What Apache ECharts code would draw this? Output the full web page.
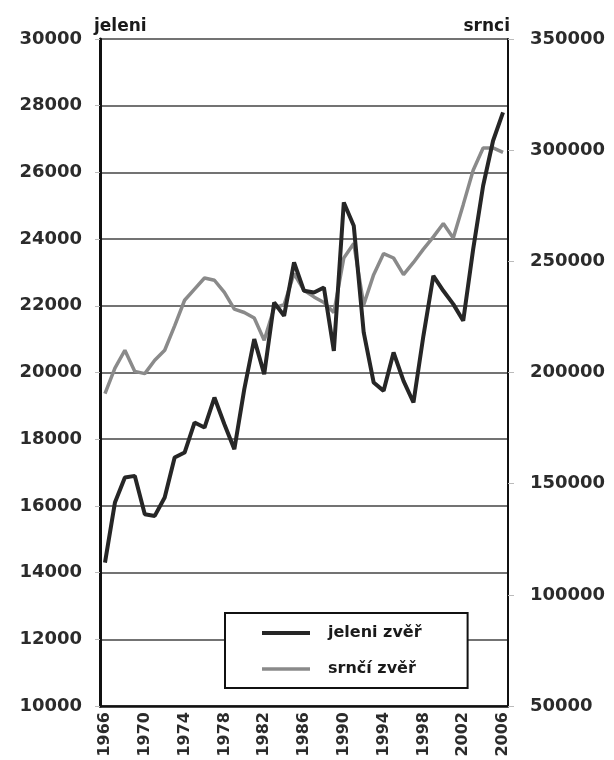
<!DOCTYPE html>
<html>
<head>
<meta charset="utf-8">
<script src="https://cdn.jsdelivr.net/npm/echarts@6/dist/echarts.min.js"></script>
<style>
html,body{margin:0;padding:0;background:#fff;}
#chart{width:614px;height:760px;}
</style>
</head>
<body>
<div id="chart"></div>
<script>
const years = ['1966','1967','1968','1969','1970','1971','1972','1973','1974','1975','1976','1977','1978','1979','1980','1981','1982','1983','1984','1985','1986','1987','1988','1989','1990','1991','1992','1993','1994','1995','1996','1997','1998','1999','2000','2001','2002','2003','2004','2005','2006'];
const jeleniZver = [14300,16100,16850,16900,15750,15700,16250,17450,17600,18500,18350,19250,18450,17700,19500,21000,19950,22100,21700,23300,22450,22400,22550,20650,25100,24400,21200,19700,19450,20600,19750,19100,21100,22900,22450,22050,21550,23700,25600,26950,27800];
const srnciZver = [190500,202000,210000,200500,199500,205500,210000,221000,232500,237500,242500,241500,236000,228500,227000,224500,214500,229000,230500,244500,237000,234000,231500,227000,251500,258000,230500,244000,253500,251500,244000,249500,255500,261000,267000,260500,275500,291000,301000,301000,299000];
const seriesNames = ['jeleni zvěř','srnčí zvěř'];
const axisNames = ['jeleni','srnci'];

const font = 'DejaVu Sans';
const plain = v => String(v);
const chart = echarts.init(document.getElementById('chart'));
chart.setOption({
  animation: false,
  backgroundColor: '#fff',
  grid: {left: 100, right: 106, top: 39, bottom: 54, containLabel: false},
  legend: {
    orient: 'vertical',
    left: 225, top: 613,
    padding: [12, 46, 11, 37],
    itemGap: 20,
    itemWidth: 48,
    itemHeight: 20,
    backgroundColor: '#fff',
    borderColor: '#111',
    borderWidth: 2,
    borderRadius: 0,
    textStyle: {fontFamily: font, fontWeight: 'bold', fontSize: 16, color: '#1a1a1a', padding: [0,0,0,13]},
    data: [
      {name: seriesNames[0], icon: 'path://M0,8 L48,8 L48,12 L0,12 Z', itemStyle: {color: '#262626'}},
      {name: seriesNames[1], icon: 'path://M0,8 L48,8 L48,11.5 L0,11.5 Z', itemStyle: {color: '#8a8a8a'}}
    ]
  },
  xAxis: {
    type: 'category',
    data: years,
    boundaryGap: true,
    axisLine: {lineStyle: {color: '#111', width: 2.5}},
    axisTick: {show: false},
    axisLabel: {interval: 3, rotate: 90, margin: 6, fontFamily: font, fontWeight: 'bold', fontSize: 16, color: '#2b2b2b'}
  },
  yAxis: [
    {
      type: 'value', min: 10000, max: 30000, interval: 2000,
      name: axisNames[0], nameLocation: 'end', nameGap: 4,
      nameTextStyle: {fontFamily: font, fontWeight: 'bold', fontSize: 17, color: '#1a1a1a', align: 'left', verticalAlign: 'bottom', padding: [0,0,0,-6]},
      axisLine: {show: true, lineStyle: {color: '#111', width: 3}},
      axisTick: {show: true, length: 5, lineStyle: {color: '#bbb'}},
      axisLabel: {margin: 18, fontFamily: font, fontWeight: 'bold', fontSize: 18, color: '#2b2b2b', formatter: plain},
      splitLine: {show: true, lineStyle: {color: '#444', width: 1.6}}
    },
    {
      type: 'value', min: 50000, max: 350000, interval: 50000,
      name: axisNames[1], nameLocation: 'end', nameGap: 4,
      nameTextStyle: {fontFamily: font, fontWeight: 'bold', fontSize: 17, color: '#1a1a1a', align: 'right', verticalAlign: 'bottom', padding: [0,-2,0,0]},
      axisLine: {show: true, lineStyle: {color: '#111', width: 2}},
      axisTick: {show: true, length: 6, lineStyle: {color: '#bbb'}},
      axisLabel: {margin: 22, fontFamily: font, fontWeight: 'bold', fontSize: 18, color: '#2b2b2b', formatter: plain},
      splitLine: {show: false}
    }
  ],
  series: [
    {
      name: seriesNames[1], type: 'line', yAxisIndex: 1, data: srnciZver,
      symbol: 'none', lineStyle: {color: '#8a8a8a', width: 3.5}, itemStyle: {color: '#8a8a8a'}, z: 2
    },
    {
      name: seriesNames[0], type: 'line', yAxisIndex: 0, data: jeleniZver,
      symbol: 'none', lineStyle: {color: '#262626', width: 4}, itemStyle: {color: '#262626'}, z: 3
    }
  ]
});
</script>
</body>
</html>
